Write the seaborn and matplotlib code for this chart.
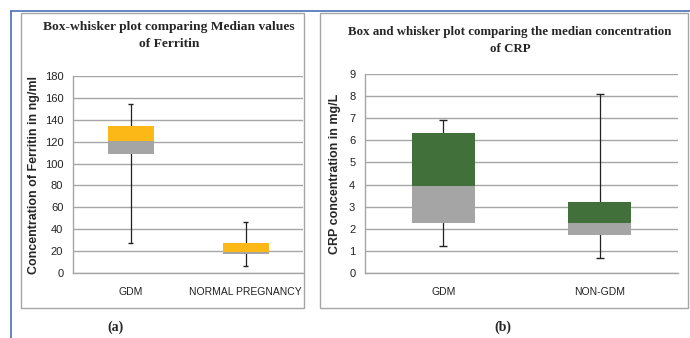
import numpy as np
import pandas as pd
import matplotlib
matplotlib.use('Agg')
import matplotlib.pyplot as plt
import seaborn as sns
from matplotlib.patches import Rectangle
from matplotlib.lines import Line2D

sns.set_style('white')
plt.rcParams['font.family'] = ['Liberation Sans', 'DejaVu Sans']

# ---- data: min, Q1, median, Q3, max ----
ferritin_groups = ['GDM', 'NORMAL PREGNANCY']
ferritin_min = [27, 6]
ferritin_q1 = [109, 17.5]
ferritin_med = [121, 19]
ferritin_q3 = [134, 27]
ferritin_max = [154, 47]

crp_groups = ['GDM', 'NON-GDM']
crp_min = [1.2, 0.7]
crp_q1 = [2.25, 1.7]
crp_med = [3.95, 2.25]
crp_q3 = [6.35, 3.2]
crp_max = [6.9, 8.1]

W, H = 690, 338
fig = plt.figure(figsize=(6.9, 3.38), dpi=100)

# outer blue frame lines and panel borders
fig.add_artist(Line2D([11 / W, 1], [1 - 11 / H, 1 - 11 / H], color='#4a6fb5', lw=1.2))
fig.add_artist(Line2D([11 / W, 11 / W], [0, 1 - 11 / H], color='#4a6fb5', lw=1.2))
for x0, x1 in [(21, 304), (320, 688)]:
    fig.add_artist(Rectangle((x0 / W, 1 - 308 / H), (x1 - x0) / W, (308 - 13) / H,
                             transform=fig.transFigure, fill=False, edgecolor='#a6a6a6', lw=1))


def box_panel(rect, groups, vmin, q1, med, q3, vmax, top_color, ymax, step,
              ylabel, title, title_y, title_size, label, label_x, title_x, ylabel_pad):
    left, top, right, bottom = rect
    ax = fig.add_axes([left / W, 1 - bottom / H, (right - left) / W, (bottom - top) / H])
    q1 = np.array(q1); med = np.array(med); q3 = np.array(q3)
    df = pd.DataFrame({'group': groups, 'low': med - q1, 'high': q3 - med})
    pos = np.arange(len(groups))
    # whiskers behind the boxes
    ax.vlines(pos, vmin, vmax, color='#222222', lw=0.9, zorder=2)
    ax.hlines(vmin, pos - 0.025, pos + 0.025, color='#222222', lw=1, zorder=2)
    ax.hlines(vmax, pos - 0.025, pos + 0.025, color='#222222', lw=1, zorder=2)
    sns.barplot(data=df, x='group', y='low', bottom=q1, color='#a5a5a5', width=0.4,
                errorbar=None, saturation=1, ax=ax, zorder=3, linewidth=0, edgecolor='none')
    sns.barplot(data=df, x='group', y='high', bottom=med, color=top_color, width=0.4,
                errorbar=None, saturation=1, ax=ax, zorder=3, linewidth=0, edgecolor='none')
    ax.set_xlim(-0.5, len(groups) - 0.5)
    ax.set_ylim(0, ymax)
    ax.set_yticks(np.arange(0, ymax + step / 2, step))
    ax.set_axisbelow(True)
    ax.grid(axis='y', color='#a6a6a6', lw=1)
    ax.grid(axis='x', visible=False)
    for s in ['top', 'right']:
        ax.spines[s].set_visible(False)
    for s in ['left', 'bottom']:
        ax.spines[s].set_color('#a6a6a6')
        ax.spines[s].set_linewidth(1)
    ax.set_xticks(np.arange(-0.5, len(groups)), minor=True)
    ax.tick_params(axis='x', which='major', length=0, labelsize=7.5, pad=10, labelcolor='#222222')
    ax.tick_params(axis='x', which='minor', length=4, color='#a6a6a6', direction='out')
    ax.tick_params(axis='y', length=4, color='#a6a6a6', direction='out', labelsize=8, pad=3,
                   labelcolor='#222222')
    ax.set_xlabel('')
    ax.set_ylabel(ylabel, fontsize=9, fontweight='bold', labelpad=ylabel_pad)
    fig.text(title_x / W, 1 - title_y / H, title, ha='center', va='top', fontsize=title_size,
             fontweight='bold', family=['Liberation Serif', 'DejaVu Serif'], linespacing=1.6)
    fig.text(label_x / W, 1 - 327 / H, label, ha='center', va='center', fontsize=10,
             fontweight='bold', family=['Liberation Serif', 'DejaVu Serif'])
    return ax


box_panel((73, 76, 303, 273), ferritin_groups, ferritin_min, ferritin_q1, ferritin_med,
          ferritin_q3, ferritin_max, '#fbb817', 180, 20,
          'Concentration of Ferritin in ng/ml',
          'Box-whisker plot comparing Median values\nof Ferritin', 21, 9.7, '(a)', 115, 169, 3)
box_panel((365, 74, 678, 273), crp_groups, crp_min, crp_q1, crp_med,
          crp_q3, crp_max, '#41703a', 9, 1,
          'CRP concentration in mg/L',
          'Box and whisker plot comparing the median concentration\nof CRP', 26, 9.3, '(b)', 503, 510, 6)

fig.savefig('out.png', dpi=100)
